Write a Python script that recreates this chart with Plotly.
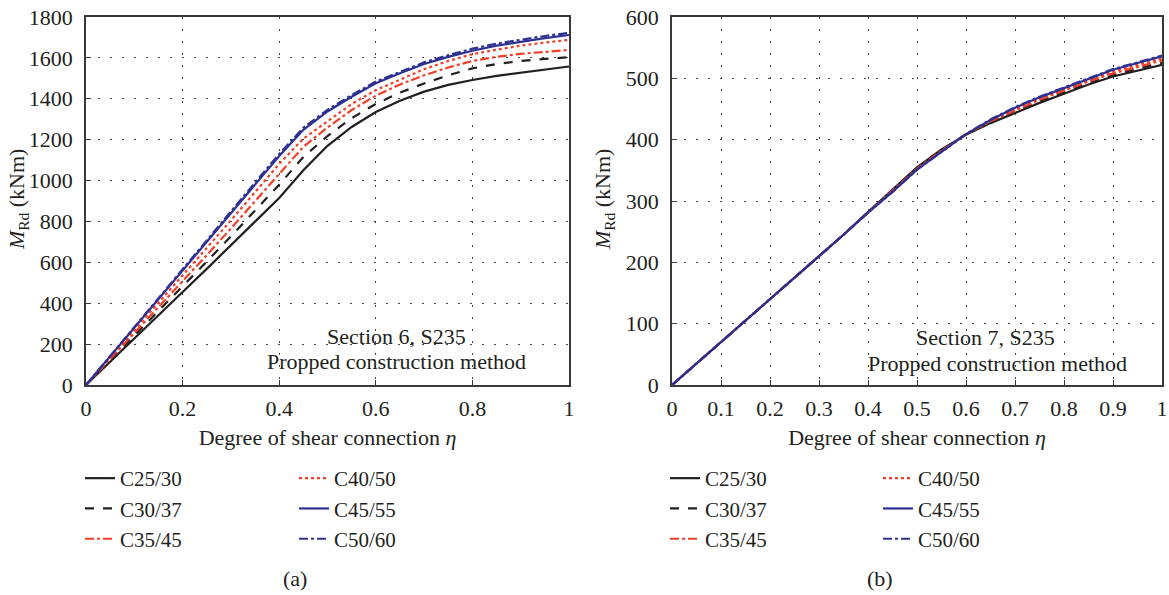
import plotly.graph_objects as go

# Degree of shear connection
eta = [0.0, 0.05, 0.1, 0.15, 0.2, 0.25, 0.3, 0.35, 0.4, 0.45, 0.5,
       0.55, 0.6, 0.65, 0.7, 0.75, 0.8, 0.85, 0.9, 0.95, 1.0]

grades = ["C25/30", "C30/37", "C35/45", "C40/50", "C45/55", "C50/60"]

# Section 6, S235 - plastic resistance moment M_Rd (kNm)
sec6_c25 = [0, 115, 230, 343, 455, 568, 682, 797, 915, 1050, 1170,
            1262, 1335, 1390, 1435, 1468, 1492, 1512, 1528, 1543, 1558]
sec6_c30 = [0, 120, 242, 362, 482, 604, 727, 852, 980, 1115, 1218,
            1305, 1375, 1430, 1475, 1515, 1549, 1570, 1585, 1595, 1603]
sec6_c35 = [0, 127, 254, 380, 505, 635, 766, 900, 1035, 1165, 1260,
            1345, 1415, 1470, 1515, 1553, 1585, 1605, 1620, 1630, 1639]
sec6_c40 = [0, 134, 268, 400, 535, 668, 805, 943, 1082, 1205, 1292,
            1375, 1442, 1495, 1545, 1585, 1618, 1640, 1660, 1675, 1688]
sec6_c45 = [0, 140, 281, 421, 562, 700, 840, 980, 1120, 1248, 1338,
            1410, 1476, 1525, 1570, 1605, 1635, 1660, 1680, 1697, 1712]
sec6_c50 = [0, 142, 284, 426, 568, 706, 848, 990, 1130, 1258, 1346,
            1418, 1484, 1533, 1578, 1613, 1645, 1670, 1690, 1707, 1722]

# Section 7, S235
sec7_c25 = [0, 35, 69, 104, 139, 174, 209, 245, 282, 319, 355,
            384, 408, 427, 444, 460, 475, 490, 503, 513, 522]
sec7_c30 = [0, 35, 69, 104, 139, 174, 209, 245, 282, 318, 354,
            383, 409, 429, 447, 463, 478, 492, 505, 516, 525]
sec7_c35 = [0, 35, 69, 104, 139, 174, 209, 245, 281, 317, 353,
            382, 409, 430, 448, 465, 480, 495, 508, 519, 529]
sec7_c40 = [0, 35, 69, 104, 139, 174, 209, 245, 281, 316, 352,
            381, 409, 431, 450, 467, 482, 497, 511, 522, 532]
sec7_c45 = [0, 35, 69, 104, 139, 174, 209, 245, 281, 315, 351,
            380, 409, 432, 452, 469, 484, 500, 514, 525, 536]
sec7_c50 = [0, 35, 69, 104, 139, 174, 209, 245, 281, 315, 351,
            380, 409, 433, 453, 470, 485, 501, 515, 526, 537]

sec6 = [sec6_c25, sec6_c30, sec6_c35, sec6_c40, sec6_c45, sec6_c50]
sec7 = [sec7_c25, sec7_c30, sec7_c35, sec7_c40, sec7_c45, sec7_c50]

BLACK = "#231f20"
RED = "#f0402a"
BLUE = "#2e3192"
styles = [
    dict(color=BLACK, dash="solid"),
    dict(color=BLACK, dash="dash"),
    dict(color=RED, dash="dashdot"),
    dict(color=RED, dash="dot"),
    dict(color=BLUE, dash="solid"),
    dict(color=BLUE, dash="dashdot"),
]

FONT = "Liberation Serif"
FS = 22      # tick labels, axis titles, notes
LFS = 21     # legend entries

fig = go.Figure()

legend_names = ["legend", "legend2", "legend3", "legend4"]
for panel, (data, xa, ya) in enumerate([(sec6, "x", "y"), (sec7, "x2", "y2")]):
    for i, (g, vals) in enumerate(zip(grades, data)):
        st = styles[i]
        fig.add_trace(go.Scatter(
            x=eta, y=vals, name=g, mode="lines",
            line=dict(color=st["color"], dash=st["dash"], width=2.2),
            xaxis=xa, yaxis=ya,
            legend=legend_names[panel * 2 + (0 if i < 3 else 1)],
            legendgroup=f"p{panel}g{i}",
        ))

axis_common = dict(
    showline=True, linecolor="#3a3a3a", linewidth=1.6, mirror=True,
    ticks="inside", ticklen=5, tickcolor="#3a3a3a",
    showgrid=True, gridcolor="#444444", griddash="2px,10px", gridwidth=1.2,
    zeroline=False, automargin=False,
    tickfont=dict(family=FONT, size=FS, color="#231f20"),
)
title_font = dict(family=FONT, size=FS, color="#231f20")

L0, L1 = 86 / 1169, 569 / 1169
R0, R1 = 672 / 1169, 1162 / 1169
B, T = 1 - 385 / 595, 1 - 17 / 595

xtitle = "Degree of shear connection <i>η</i>"
ytitle = "<i>M</i><sub>Rd</sub> (kNm)"

fig.update_layout(
    width=1169, height=595,
    margin=dict(l=0, r=0, t=0, b=0, autoexpand=False),
    paper_bgcolor="white", plot_bgcolor="white",
    font=dict(family=FONT, size=FS, color="#231f20"),
    xaxis=dict(domain=[L0, L1], range=[0, 1], dtick=0.2, anchor="y",
               ticklabelstandoff=3,
               title=dict(text=xtitle, standoff=9, font=title_font),
               **axis_common),
    yaxis=dict(domain=[B, T], range=[0, 1800], dtick=200, anchor="x",
               ticklabelstandoff=7, **axis_common),
    xaxis2=dict(domain=[R0, R1], range=[0, 1], dtick=0.1, anchor="y2",
                ticklabelstandoff=3,
                title=dict(text=xtitle, standoff=9, font=title_font),
                **axis_common),
    yaxis2=dict(domain=[B, T], range=[0, 600], dtick=100, anchor="x2",
                ticklabelstandoff=7, **axis_common),
)

leg_common = dict(
    font=dict(family=FONT, size=LFS, color="#231f20"),
    bgcolor="rgba(0,0,0,0)", borderwidth=0,
    tracegroupgap=0, yanchor="top", xanchor="left",
)
leg_y = 1 - 458 / 595
fig.update_layout(
    legend=dict(x=80 / 1169, y=leg_y, **leg_common),
    legend2=dict(x=294 / 1169, y=leg_y, **leg_common),
    legend3=dict(x=665 / 1169, y=leg_y, **leg_common),
    legend4=dict(x=878 / 1169, y=leg_y, **leg_common),
)

# y-axis titles, placed at a fixed offset from each frame
for px in (18, 604):
    fig.add_annotation(
        x=px / 1169, y=1 - 200 / 595, xref="paper", yref="paper",
        text=ytitle, textangle=-90, showarrow=False,
        xanchor="center", yanchor="middle",
        font=title_font,
    )

notes = [
    (396, 336, "Section 6, S235"),
    (396, 361, "Propped construction method"),
    (985, 337, "Section 7, S235"),
    (997, 363, "Propped construction method"),
    (295, 578, "(a)"),
    (880, 578, "(b)"),
]
for px, py, txt in notes:
    fig.add_annotation(
        x=px / 1169, y=1 - py / 595, xref="paper", yref="paper",
        text=txt, showarrow=False, xanchor="center", yanchor="middle",
        font=dict(family=FONT, size=FS, color="#231f20"),
    )

fig.write_html("out.html")
